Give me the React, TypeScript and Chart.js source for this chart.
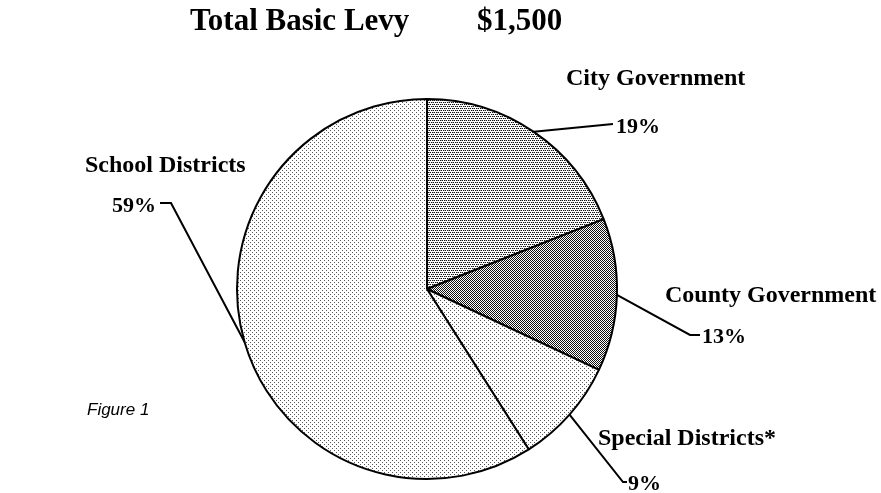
import React, { useEffect, useRef } from "react";
import { Chart, registerables } from "chart.js";

Chart.register(...registerables);

const categories = ["City Government", "County Government", "Special Districts*", "School Districts"];
const shares = [19, 13, 9, 59];
const percentLabels = ["19%", "13%", "9%", "59%"];
const titleLeft = "Total Basic Levy";
const titleRight = "$1,500";
const figureNote = "Figure 1";

// label layout: name position, percent position, leader bend points
const labelLayout = [
  { name: [566, 85], pct: [616, 133], path: [[613, 124]] },
  { name: [665, 302], pct: [702, 343], path: [[690, 335], [700, 335]] },
  { name: [598, 445], pct: [628, 490], path: [[623, 482], [627, 482]] },
  { name: [85, 172], pct: [112, 212], path: [[171, 203], [160, 203]] },
];

function makePattern(kind: string): CanvasPattern | string {
  const c = document.createElement("canvas");
  const ctx = c.getContext("2d")!;
  if (kind === "city") {
    c.width = 4; c.height = 4;
    ctx.fillStyle = "#fff"; ctx.fillRect(0, 0, 4, 4);
    ctx.fillStyle = "#111";
    ctx.fillRect(0, 0, 1, 1); ctx.fillRect(2, 0, 1, 1);
    ctx.fillRect(1, 2, 1, 1); ctx.fillRect(3, 2, 1, 1);
    ctx.fillStyle = "#999";
    ctx.fillRect(1, 0, 1, 1); ctx.fillRect(0, 2, 1, 1);
  } else if (kind === "county") {
    c.width = 2; c.height = 2;
    ctx.fillStyle = "#fff"; ctx.fillRect(0, 0, 2, 2);
    ctx.fillStyle = "#111";
    ctx.fillRect(0, 0, 1, 1); ctx.fillRect(1, 1, 1, 1);
  } else {
    c.width = 4; c.height = 4;
    ctx.fillStyle = "#fff"; ctx.fillRect(0, 0, 4, 4);
    ctx.fillStyle = "#555";
    ctx.fillRect(0, 0, 1, 1); ctx.fillRect(2, 2, 1, 1);
  }
  return ctx.createPattern(c, "repeat") || "#ddd";
}

const SERIF = '"Liberation Serif", "Times New Roman", serif';

const annotationPlugin = {
  id: "annotations",
  afterDatasetsDraw(chart: any) {
    const ctx = chart.ctx as CanvasRenderingContext2D;
    const meta = chart.getDatasetMeta(0);
    ctx.save();
    // title
    ctx.fillStyle = "#000";
    ctx.textBaseline = "alphabetic";
    ctx.textAlign = "left";
    ctx.font = `bold 31px ${SERIF}`;
    ctx.fillText(titleLeft, 190, 30);
    ctx.fillText(titleRight, 477, 30);
    // figure note
    ctx.font = 'italic 17px "Liberation Sans", Arial, sans-serif';
    ctx.fillText(figureNote, 87, 415);
    // leaders and labels
    meta.data.forEach((arc: any, i: number) => {
      const p = arc.getProps(["x", "y", "startAngle", "endAngle", "outerRadius"], true);
      const mid = (p.startAngle + p.endAngle) / 2;
      const sx = p.x + p.outerRadius * Math.cos(mid);
      const sy = p.y + p.outerRadius * Math.sin(mid);
      const lay = labelLayout[i];
      ctx.beginPath();
      ctx.moveTo(sx, sy);
      lay.path.forEach((pt) => ctx.lineTo(pt[0], pt[1]));
      ctx.strokeStyle = "#000";
      ctx.lineWidth = 2;
      ctx.lineJoin = "miter";
      ctx.stroke();
      ctx.font = `bold 24px ${SERIF}`;
      ctx.fillText(categories[i], lay.name[0], lay.name[1]);
      ctx.font = `bold 22px ${SERIF}`;
      ctx.fillText(percentLabels[i], lay.pct[0], lay.pct[1]);
    });
    ctx.restore();
  },
};

export default function App() {
  const ref = useRef<HTMLCanvasElement>(null);
  useEffect(() => {
    document.body.style.margin = "0";
    const bg = [makePattern("city"), makePattern("county"), makePattern("sparse"), makePattern("sparse")];
    const chart = new Chart(ref.current!, {
      type: "pie",
      data: {
        labels: categories,
        datasets: [
          {
            data: shares,
            backgroundColor: bg as any,
            borderColor: "#000",
            borderWidth: 2,
            radius: 190,
          },
        ],
      },
      options: {
        responsive: false,
        animation: false,
        layout: { padding: { left: 200, right: 227, top: 95, bottom: 10 } },
        plugins: { legend: { display: false }, tooltip: { enabled: false } },
      },
      plugins: [annotationPlugin],
    });
    return () => chart.destroy();
  }, []);
  return (
    <div style={{ position: "absolute", left: 0, top: 0, width: 881, height: 493, background: "#fff" }}>
      <canvas ref={ref} width={881} height={493} />
    </div>
  );
}
